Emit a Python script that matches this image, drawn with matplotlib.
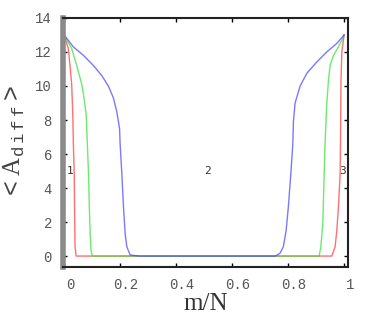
import matplotlib
matplotlib.use("Agg")
from matplotlib import pyplot as plt
from matplotlib import transforms

# curves: m/N and <A_diff>
red_x = [0, 0.015, 0.021, 0.027, 0.031, 0.033, 0.036, 0.038, 0.039, 0.043,
         0.956, 0.968, 0.974, 0.98, 0.986, 0.988, 0.989, 0.992, 1.0]
red_y = [13.0, 12.2, 11.2, 10.1, 8.3, 6.6, 4.9, 1.9, 0.55, 0,
         0, 0.55, 1.5, 2.9, 4.9, 8.3, 10.3, 12.0, 13.0]

green_x = [0, 0.007, 0.027, 0.045, 0.063, 0.071, 0.079, 0.083, 0.087, 0.09, 0.093, 0.096, 0.101,
           0.911, 0.917, 0.924, 0.929, 0.932, 0.938, 0.944, 0.95, 0.962, 0.98, 0.995, 1.0]
green_y = [13.0, 12.8, 12.2, 11.2, 10.1, 9.3, 8.3, 6.6, 4.9, 2.9, 1.3, 0.35, 0,
           0, 0.55, 1.9, 4.9, 6.6, 8.9, 10.3, 11.2, 11.8, 12.3, 12.8, 13.0]

blue_x = [0, 0.033, 0.069, 0.105, 0.135, 0.158, 0.176, 0.188, 0.198, 0.2, 0.206, 0.212, 0.218,
          0.224, 0.236, 0.27, 0.754, 0.771, 0.783, 0.793, 0.801, 0.81, 0.817, 0.819, 0.825,
          0.843, 0.867, 0.902, 0.938, 0.974, 1.0]
blue_y = [13.0, 12.3, 11.8, 11.2, 10.6, 10.0, 9.3, 8.5, 7.5, 6.6, 4.9, 2.9, 1.3,
          0.55, 0.06, 0, 0, 0.16, 0.55, 1.5, 2.9, 4.9, 6.6, 7.9, 9.0,
          10.0, 10.75, 11.4, 12.0, 12.5, 13.0]

# region labels
region_labels = ["1", "2", "3"]
region_x = [0.021, 0.513, 0.996]
region_y = [5.0, 5.0, 5.0]

xticks = [0, 0.2, 0.4, 0.6, 0.8, 1]
xtick_labels = ["0", "0.2", "0.4", "0.6", "0.8", "1"]
yticks = [0, 2, 4, 6, 8, 10, 12, 14]

plt.rcParams["mathtext.fontset"] = "custom"
plt.rcParams["mathtext.rm"] = "Liberation Serif"
plt.rcParams["mathtext.tt"] = "Liberation Mono"

fig = plt.figure(figsize=(3.75, 3.15), dpi=100)
ax = fig.add_axes([0.168, 0.152, 0.76, 0.791])

ax.plot(red_x, red_y, color="#ff4040", lw=1.0, alpha=0.75)
ax.plot(green_x, green_y, color="#30e030", lw=1.0, alpha=0.7)
ax.plot(blue_x, blue_y, color="#4040ff", lw=1.0, alpha=0.7)

for lab, xx, yy in zip(region_labels, region_x, region_y):
    ax.text(xx, yy, lab, fontsize=8, family="DejaVu Sans Mono", color="#333333",
            ha="center", va="center")

ax.set_xlim(-0.004, 1.014)
ax.set_ylim(-0.65, 14)
ax.set_xticks(xticks)
ax.set_xticklabels(xtick_labels)
ax.set_yticks(yticks)

ax.tick_params(direction="in", length=3, width=1, top=True, right=True,
               labelsize=10, labelcolor="#555555", pad=8)
for lab in ax.get_xticklabels() + ax.get_yticklabels():
    lab.set_family("Liberation Mono")
offset = transforms.ScaledTranslation(6 / 100, 0, fig.dpi_scale_trans)
for lab in ax.get_xticklabels():
    lab.set_transform(lab.get_transform() + offset)

for side in ["top", "right", "bottom"]:
    ax.spines[side].set_linewidth(1.5)
    ax.spines[side].set_color("#222222")
ax.spines["left"].set_linewidth(4)
ax.spines["left"].set_color("#8a8a8a")

ax.set_xlabel("m/N", fontsize=18, family="Liberation Serif", color="#333333")
ax.xaxis.set_label_coords(0.5, -0.105)
ax.set_ylabel(r"$\mathtt{<}\mathrm{A}_{\mathtt{d\,i\,f\,f}}\mathtt{>}$", fontsize=18,
              color="#444444")
ax.yaxis.set_label_coords(-0.125, 0.5)

fig.savefig("out.png", dpi=100)
